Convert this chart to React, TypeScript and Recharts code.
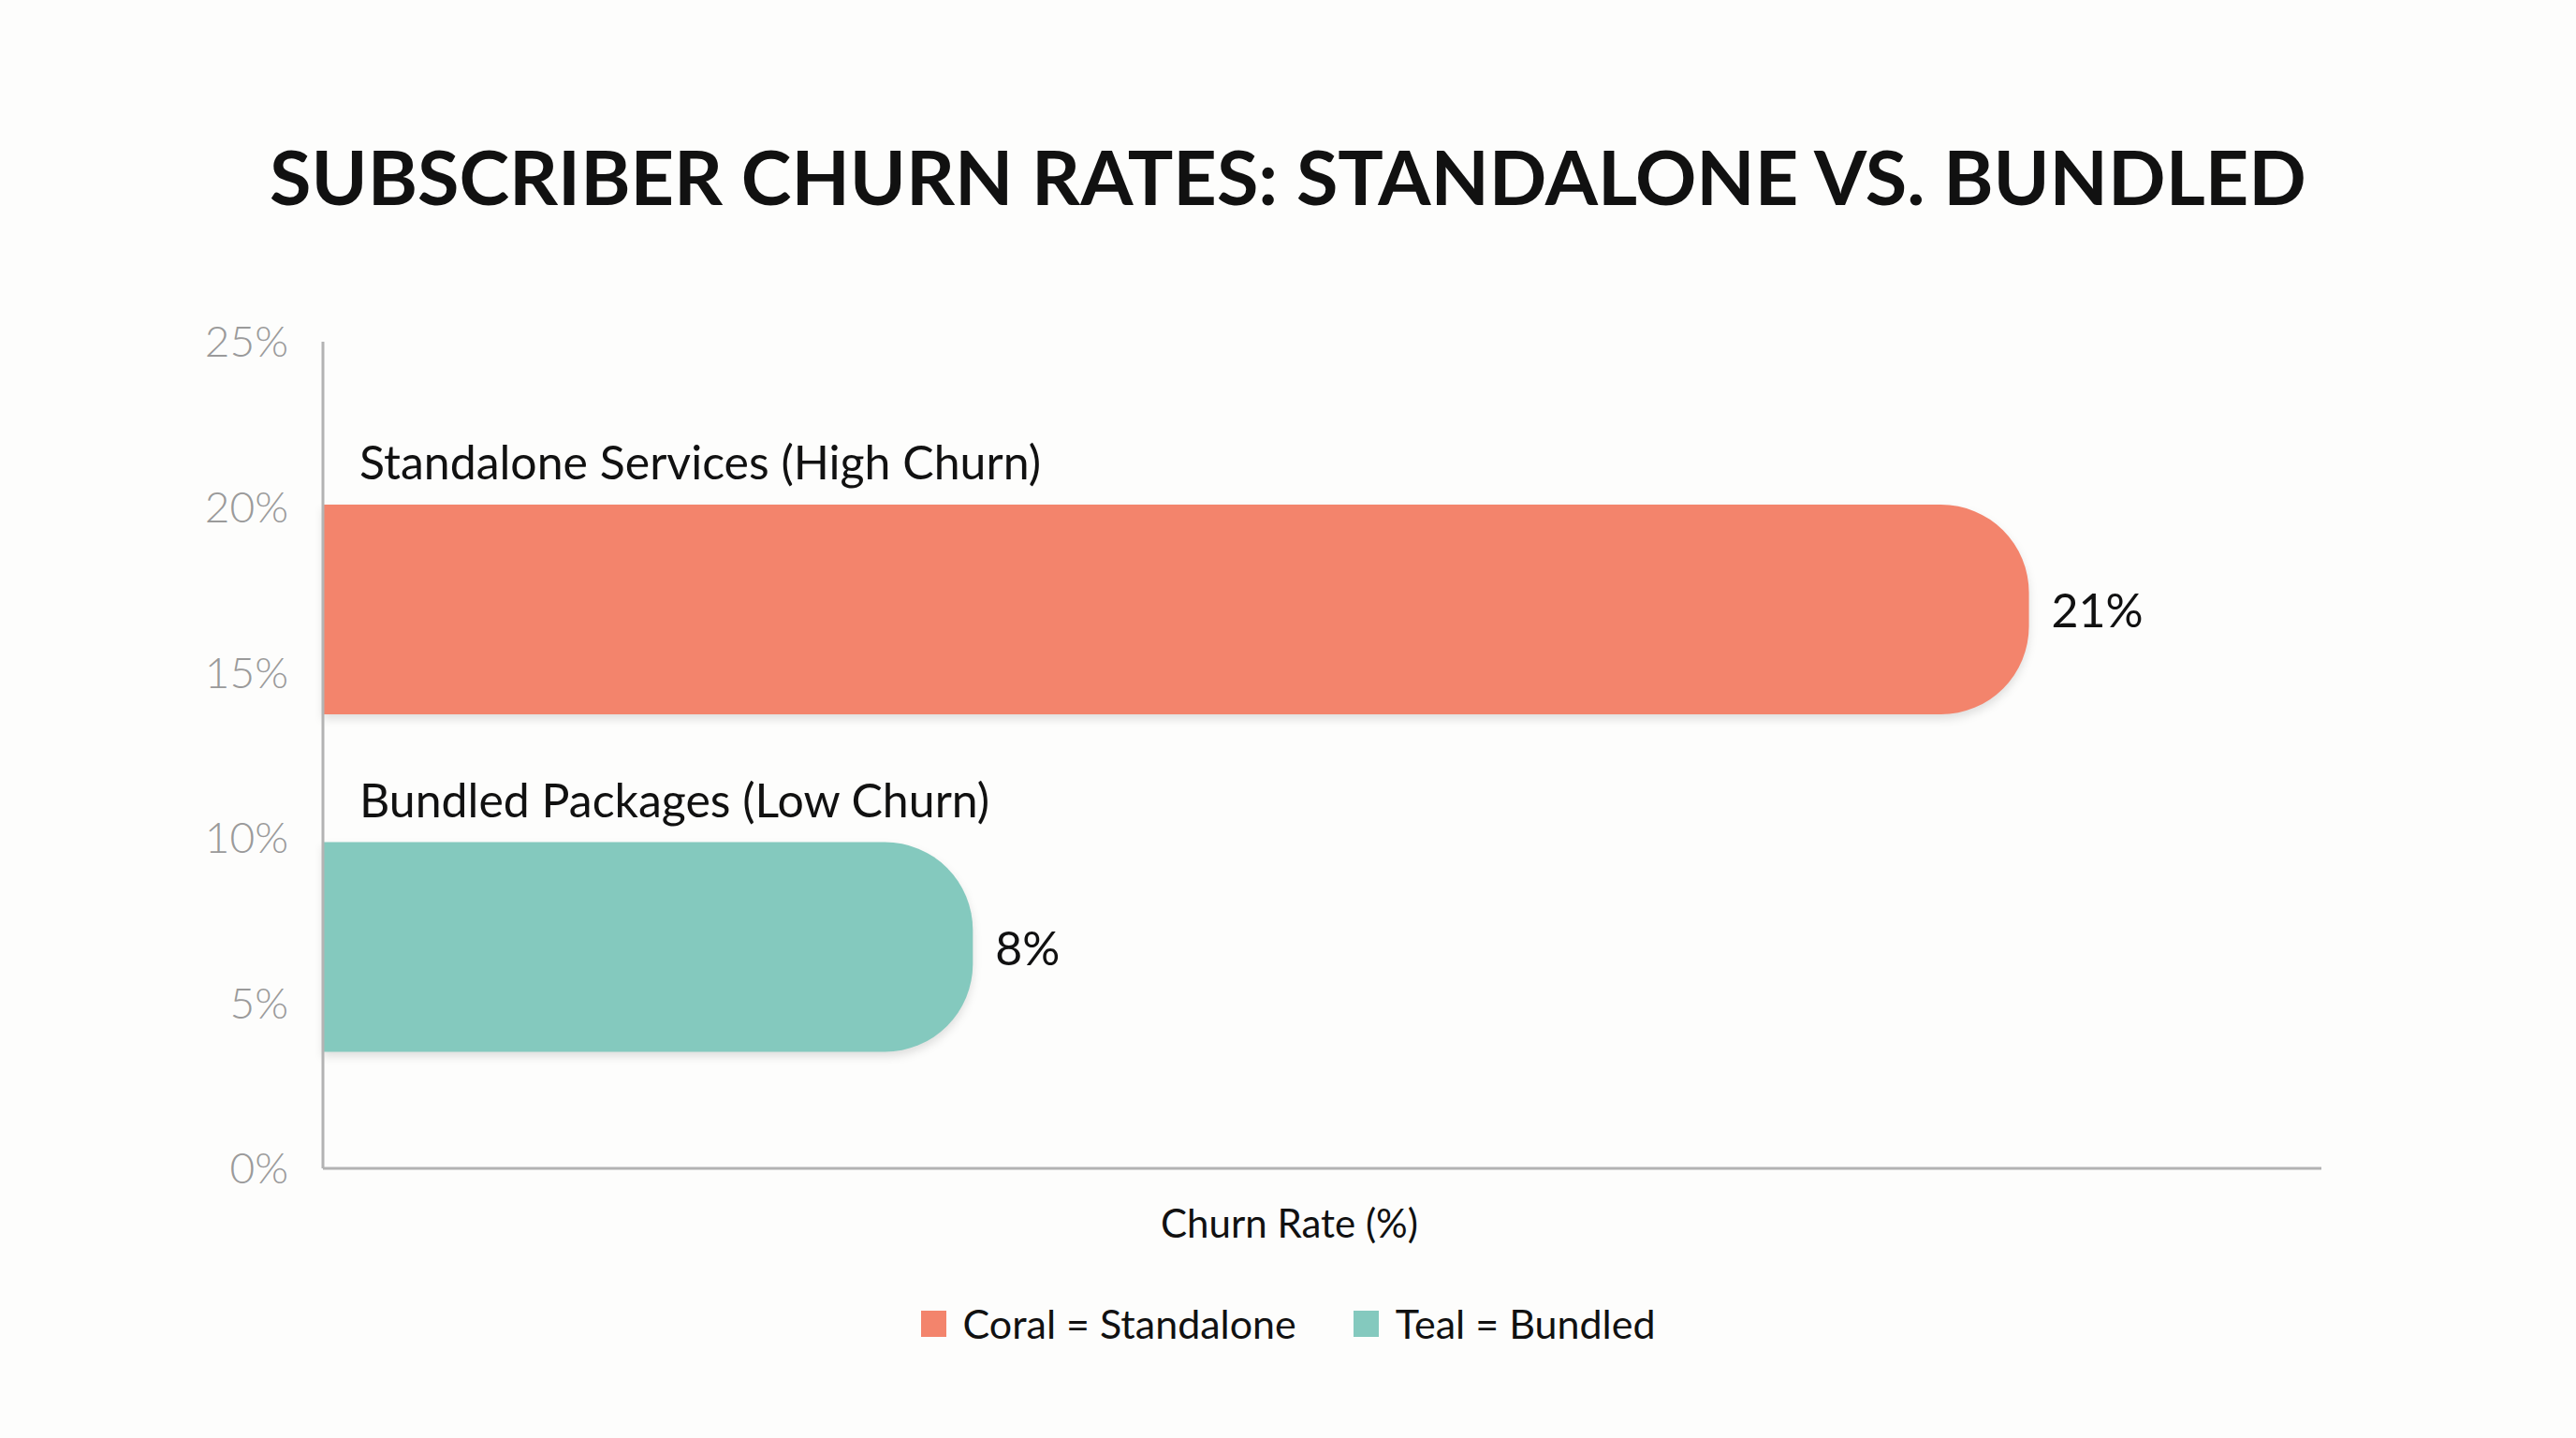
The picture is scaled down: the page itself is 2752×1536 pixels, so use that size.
import React from "react";
import { BarChart, LineChart, Bar, XAxis, YAxis, Cell, LabelList, Label, Legend } from "recharts";

const categories = ["Standalone Services (High Churn)", "Bundled Packages (Low Churn)"];
const churnValues = [21, 8];
const barColors = ["#F3846C", "#84C9BE"];
const yTicks = [0, 5, 10, 15, 20, 25];
const legendLabels = ["Coral = Standalone", "Teal = Bundled"];
const titleText = "SUBSCRIBER CHURN RATES: STANDALONE VS. BUNDLED";
const xAxisTitle = "Churn Rate (%)";

const data = categories.map((c, i) => ({ category: c, churn: churnValues[i] }));

const FONT = "Lato, 'Open Sans', sans-serif";
const W = 2752;
const H = 1536;
const PLOT_TOP = 365;
const PLOT_RIGHT = 272;
const PLOT_LEFT = 345;
const X_AXIS_H = 120;
const BOTTOM_M = 168;

const getBox = (p: any) => {
  const vb = p.viewBox || {};
  return {
    x: Number(p.x ?? vb.x),
    y: Number(p.y ?? vb.y),
    width: Number(p.width ?? vb.width),
    height: Number(p.height ?? vb.height),
  };
};

const NameLabel = (p: any) => {
  const b = getBox(p);
  return (
    <text x={b.x + 39} y={b.y - 27} fontSize={50} fill="#111" fontFamily={FONT}>
      {p.value}
    </text>
  );
};

const ValueLabel = (p: any) => {
  const b = getBox(p);
  return (
    <text
      x={b.x + b.width + 24}
      y={b.y + b.height / 2}
      dominantBaseline="central"
      fontSize={50}
      fill="#111"
      fontFamily={FONT}
    >
      {`${p.value}%`}
    </text>
  );
};

const AxisTitle = (p: any) => {
  const vb = p.viewBox || {};
  return (
    <text
      x={vb.x + vb.width / 2 - 35}
      y={vb.y + 74}
      textAnchor="middle"
      fontSize={42}
      fill="#111"
      fontFamily={FONT}
    >
      {xAxisTitle}
    </text>
  );
};

const LegendContent = () => (
  <div
    style={{
      display: "flex",
      justifyContent: "center",
      alignItems: "center",
      gap: 61,
      fontFamily: FONT,
      fontSize: 43,
      lineHeight: "43px",
      color: "#111",
    }}
  >
    {legendLabels.map((l, i) => (
      <div key={l} style={{ display: "flex", alignItems: "center" }}>
        <span style={{ display: "inline-block", width: 27, height: 28, background: barColors[i], marginRight: 18 }} />
        <span>{l}</span>
      </div>
    ))}
  </div>
);

export default function App() {
  return (
    <div
      style={{
        position: "absolute",
        left: 0,
        top: 0,
        width: W,
        height: H,
        background: "#fdfdfc",
        fontFamily: FONT,
      }}
    >
      <div style={{ position: "absolute", left: 0, top: 0 }}>
        <BarChart
          width={W}
          height={H}
          data={data}
          layout="vertical"
          margin={{ top: PLOT_TOP, right: PLOT_RIGHT, bottom: BOTTOM_M, left: PLOT_LEFT }}
        >
          <XAxis
            type="number"
            dataKey="churn"
            domain={[0, 24.6]}
            tick={false}
            tickLine={false}
            axisLine={{ stroke: "#b3b3b3", strokeWidth: 3 }}
            height={X_AXIS_H}
          >
            <Label content={AxisTitle} />
          </XAxis>
          <YAxis
            type="category"
            dataKey="category"
            hide
            width={0}
            padding={{ top: 106, bottom: 56 }}
          />
          <Legend
            layout="horizontal"
            verticalAlign="middle"
            align="center"
            content={LegendContent}
            wrapperStyle={{ top: 1392, left: 0, width: W }}
          />
          <Bar
            dataKey="churn"
            barSize={224}
            radius={[0, 94, 94, 0]}
            isAnimationActive={false}
            style={{ filter: "drop-shadow(0px 5px 5px rgba(0,0,0,0.12))" }}
          >
            {data.map((d, i) => (
              <Cell key={d.category} fill={barColors[i]} />
            ))}
            <LabelList dataKey="category" content={NameLabel} />
            <LabelList dataKey="churn" content={ValueLabel} />
          </Bar>
        </BarChart>
      </div>
      <div style={{ position: "absolute", left: 0, top: 0, pointerEvents: "none" }}>
        <LineChart
          width={W}
          height={H}
          data={data}
          margin={{ top: PLOT_TOP, right: PLOT_RIGHT, bottom: BOTTOM_M + X_AXIS_H, left: 0 }}
        >
          <XAxis dataKey="category" hide />
          <YAxis
            type="number"
            domain={[0, 25]}
            ticks={yTicks}
            interval={0}
            allowDataOverflow
            width={PLOT_LEFT}
            tickFormatter={(v: number) => `${v}%`}
            tickLine={false}
            tickSize={0}
            tickMargin={37}
            axisLine={{ stroke: "#b3b3b3", strokeWidth: 3 }}
            tick={{ fontSize: 46, fill: "#9a9a9a", fontFamily: FONT, fontWeight: 300 }}
          />
        </LineChart>
      </div>
      <svg width={W} height={300} style={{ position: "absolute", left: 0, top: 0, pointerEvents: "none" }}>
        <text x={1376} y={219} textAnchor="middle" fontSize={81} fontWeight={700} fill="#111" fontFamily={FONT}>
          {titleText}
        </text>
      </svg>
    </div>
  );
}
